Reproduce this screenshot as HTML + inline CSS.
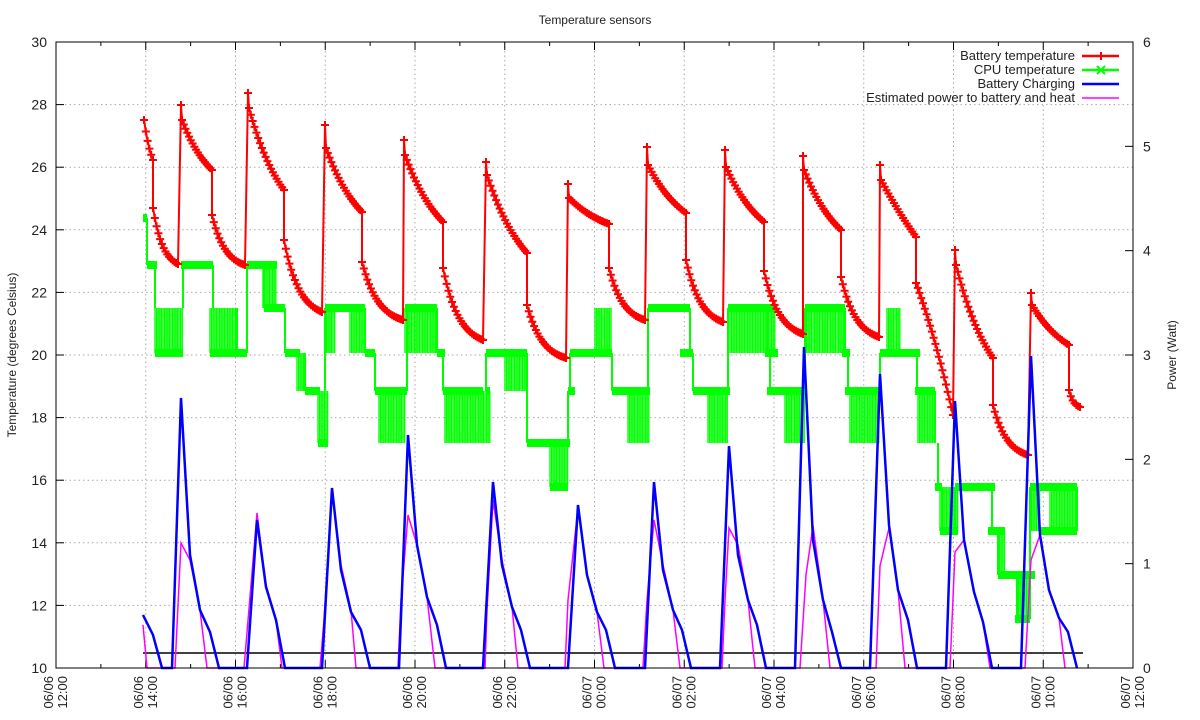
<!DOCTYPE html>
<html><head><meta charset="utf-8">
<style>
html,body{margin:0;padding:0;background:#fff;}
svg{display:block;font-family:"Liberation Sans","DejaVu Sans",sans-serif;}
</style></head>
<body>
<svg id="c" width="1200" height="720" viewBox="0 0 1200 720" xmlns="http://www.w3.org/2000/svg"></svg>
<script>
const S=document.getElementById('c');let h='';
const X0=56,X1=1133,Y0=42,Y1=668;
for(let i=0;i<=12;i++){const x=X0+i*(X1-X0)/12;
 if(i>0&&i<12)h+=`<line x1="${x}" y1="${Y0}" x2="${x}" y2="${Y1}" stroke="#aaa" stroke-width="1" stroke-dasharray="1.5,3"/>`;
 h+=`<line x1="${x}" y1="${Y1}" x2="${x}" y2="${Y1-8}" stroke="#000"/><line x1="${x}" y1="${Y0}" x2="${x}" y2="${Y0+8}" stroke="#000"/>`;
 const xm=x+(X1-X0)/24; if(i<12)h+=`<line x1="${xm}" y1="${Y1}" x2="${xm}" y2="${Y1-4}" stroke="#000"/><line x1="${xm}" y1="${Y0}" x2="${xm}" y2="${Y0+4}" stroke="#000"/>`;
 const d=(i<6)?'06/06':'06/07';const hr=['12:00','14:00','16:00','18:00','20:00','22:00','00:00','02:00','04:00','06:00','08:00','10:00','12:00'][i];
 const dd=i==12?'06/07':d;
 h+=`<text transform="translate(${x-3},676) rotate(-90)" text-anchor="end" font-size="13" fill="#222">${dd}</text>`;
 h+=`<text transform="translate(${x+11},676) rotate(-90)" text-anchor="end" font-size="13" fill="#222">${hr}</text>`;
}
for(let v=10;v<=30;v+=2){const y=Y1-(v-10)*(Y1-Y0)/20;
 if(v>10&&v<30)h+=`<line x1="${X0}" y1="${y}" x2="${X1}" y2="${y}" stroke="#aaa" stroke-width="1" stroke-dasharray="1.5,3"/>`;
 h+=`<line x1="${X0}" y1="${y}" x2="${X0+8}" y2="${y}" stroke="#000"/>`;
 h+=`<text x="47" y="${y+5}" text-anchor="end" font-size="14" fill="#222">${v}</text>`;}
for(let v=0;v<=6;v++){const y=Y1-v*(Y1-Y0)/6;
 h+=`<line x1="${X1}" y1="${y}" x2="${X1-8}" y2="${y}" stroke="#000"/>`;
 h+=`<text x="1143" y="${y+5}" font-size="14" fill="#222">${v}</text>`;}
h+=`<text x="595" y="24" text-anchor="middle" font-size="12" fill="#222">Temperature sensors</text>`;
h+=`<text transform="translate(16,355) rotate(-90)" text-anchor="middle" font-size="12" fill="#222">Temperature (degrees Celsius)</text>`;
h+=`<text transform="translate(1176,355) rotate(-90)" text-anchor="middle" font-size="12" fill="#222">Power (Watt)</text>`;
h+=`<line x1="143" y1="653" x2="1083" y2="653" stroke="#000" stroke-width="1.5"/>`;
const L=[218,265,308,353,391,443,487,531,575,619];
const G='#00ff00';let g='';
const seg=[[143,147,0],[147,157,1],[181,213,1],[237,247,3],[247,277,1],[264,285,2],[285,300,3],[305,320,4],[325,365,2],[365,375,3],[375,407,4],[405,437,2],[437,445,3],[443,483,4],[486,527,3],[527,570,5],[568,575,4],[570,612,3],[612,650,4],[648,690,2],[680,693,3],[693,730,4],[728,775,2],[765,778,3],[767,805,4],[805,845,2],[842,850,3],[845,880,4],[880,920,3],[915,935,4],[935,942,6],[940,958,7],[955,995,6],[988,1005,7],[998,1035,8],[1015,1030,9],[1030,1077,6],[1040,1077,7],[155,183,3],[210,237,3],[318,328,5],[486,490,4],[550,568,6]];
const blk=[[155,183,2,3],[210,237,2,3],[263,277,1,2],[297,305,3,4],[318,328,4,5],[325,335,2,3],[350,365,2,3],[379,405,4,5],[405,437,2,3],[445,490,4,5],[505,527,3,4],[550,568,5,6],[595,612,2,3],[628,650,4,5],[730,775,2,3],[708,728,4,5],[785,805,4,5],[805,845,2,3],[850,880,4,5],[887,900,2,3],[918,935,4,5],[940,958,6,7],[998,1005,7,8],[1017,1030,8,9],[1030,1040,6,7],[1050,1077,6,7]];
for(const b of blk){for(let x=b[0];x<=b[1];x+=1.6)g+=`<line x1="${x}" y1="${L[b[2]]}" x2="${x}" y2="${L[b[3]]}" stroke="${G}" stroke-width="1.4"/>`;}
for(const s of seg){g+=`<line x1="${s[0]}" y1="${L[s[2]]}" x2="${s[1]}" y2="${L[s[2]]}" stroke="${G}" stroke-width="8"/>`;}
const main=[[143,0],[147,1],[155,2],[183,1],[213,2],[237,3],[247,1],[264,2],[285,3],[305,4],[325,2],[365,3],[375,4],[407,2],[437,3],[443,4],[486,3],[527,5],[568,4],[570,3],[612,4],[648,2],[690,3],[693,4],[728,2],[767,3],[770,4],[805,2],[845,3],[848,4],[880,3],[917,4],[935,5],[938,6],[942,7],[955,6],[992,7],[998,8],[1017,9],[1030,6],[1077,7]];
for(let i=1;i<main.length;i++){g+=`<line x1="${main[i][0]}" y1="${L[main[i-1][1]]}" x2="${main[i][0]}" y2="${L[main[i][1]]}" stroke="${G}" stroke-width="2"/>`;}
h+=g;
const R='#ff0000';
const cyc=[[143,120,120,153,160,208,178,264],[181,105,120,212,170,215,245,265],[248,93,108,284,190,240,322,312],[325,125,148,362,212,262,403,320],[404,140,155,443,222,268,483,340],[486,162,175,527,253,305,566,358],[568,184,198,609,224,268,645,320],[647,147,165,686,213,260,723,322],[725,150,167,764,222,271,803,334],[803,156,170,841,230,277,879,337],[880,165,180,916,237,283,953,415],[955,250,265,993,358,405,1028,455],[1031,293,305,1069,345,390,1080,407]];
let pts=[],mk=[];
function curve(xa,ya,xb,yb,k){const r=[];const n=Math.max(2,Math.round((xb-xa)/1.8));for(let i=0;i<=n;i++){const t=i/n;const f=k?(1-Math.exp(-k*t))/(1-Math.exp(-k)):t;r.push([xa+(xb-xa)*t,ya+(yb-ya)*f]);}return r;}
cyc.forEach((c,i)=>{ if(i>0){pts.push([c[0],c[1]]);mk.push([c[0],c[1]]);}
 const a=curve(c[0]+1,c[2],c[3],c[4],i==10?0.3:1.0);const b=curve(c[3],c[5],c[6],c[7],i==10?-0.5:2.5);
 a.concat(b).forEach(p=>{pts.push(p);mk.push(p);});});
h+=`<polyline points="${pts.map(p=>p[0].toFixed(1)+','+p[1].toFixed(1)).join(' ')}" fill="none" stroke="${R}" stroke-width="2"/>`;
let mp='';mk.forEach(p=>{mp+=`M${(p[0]-4).toFixed(1)} ${p[1].toFixed(1)}h8M${p[0].toFixed(1)} ${(p[1]-4).toFixed(1)}v8`;});
h+=`<path d="${mp}" stroke="${R}" stroke-width="2" fill="none"/>`;
const B=[143,615,153,635,162,668,172,668,181,398,190,555,200,610,210,632,219,668,247,668,257,520,266,587,276,620,285,668,322,668,332,488,341,570,351,612,361,630,370,668,399,668,408,435,417,545,427,597,437,625,446,668,483,668,493,482,502,565,512,607,521,630,530,668,568,668,578,505,587,575,597,612,606,630,615,668,645,668,654,482,663,570,673,610,682,630,691,668,720,668,729,446,738,555,748,600,757,625,766,668,795,668,804,347,813,540,823,600,832,632,841,668,870,668,880,374,889,525,898,590,908,620,917,668,946,668,955,401,964,540,974,592,983,622,992,668,1021,668,1031,356,1040,535,1049,590,1059,618,1068,632,1077,668];
const M=[143,625,147,668,175,668,181,543,190,560,200,610,207,668,244,668,250,597,257,513,266,585,276,620,282,668,320,668,324,620,332,490,341,565,351,610,356,668,398,668,401,600,408,515,417,545,427,597,435,668,485,668,487,610,493,500,502,560,512,607,518,668,565,668,568,600,578,508,587,575,597,612,604,668,643,668,647,600,654,520,663,565,673,610,680,668,722,668,725,600,729,528,738,545,748,600,755,668,800,668,806,575,813,526,823,600,830,668,876,668,880,566,889,528,898,590,905,668,950,668,955,552,964,540,974,592,983,622,990,668,1025,668,1031,560,1040,535,1049,590,1059,618,1065,668];
const pl=a=>{let s='';for(let i=0;i<a.length;i+=2)s+=a[i]+','+a[i+1]+' ';return s;};
h+=`<polyline points="${pl(M)}" fill="none" stroke="#ff00ff" stroke-width="1.5"/>`;
h+=`<polyline points="${pl(B)}" fill="none" stroke="#0000ff" stroke-width="2.5"/>`;
h+=`<rect x="${X0}" y="${Y0}" width="${X1-X0}" height="${Y1-Y0}" fill="none" stroke="#000" stroke-width="1"/>`;
const lg=[['Battery temperature',R,'+'],['CPU temperature',G,'x'],['Battery Charging','#0000ff',''],['Estimated power to battery and heat','#ff00ff','']];
lg.forEach((e,i)=>{const y=56+i*14;
 h+=`<text x="1075" y="${y+4}" text-anchor="end" font-size="13" fill="#222">${e[0]}</text>`;
 h+=`<line x1="1082" y1="${y}" x2="1119" y2="${y}" stroke="${e[1]}" stroke-width="${i==3?1.5:2.5}"/>`;
 if(e[2]=='+')h+=`<path d="M1097 ${y}h8M1101 ${y-4}v8" stroke="${e[1]}" stroke-width="2"/>`;
 if(e[2]=='x')h+=`<path d="M1097 ${y-4}l8 8M1105 ${y-4}l-8 8" stroke="${e[1]}" stroke-width="2"/>`;
});
S.innerHTML=h;
</script>
</body></html>
